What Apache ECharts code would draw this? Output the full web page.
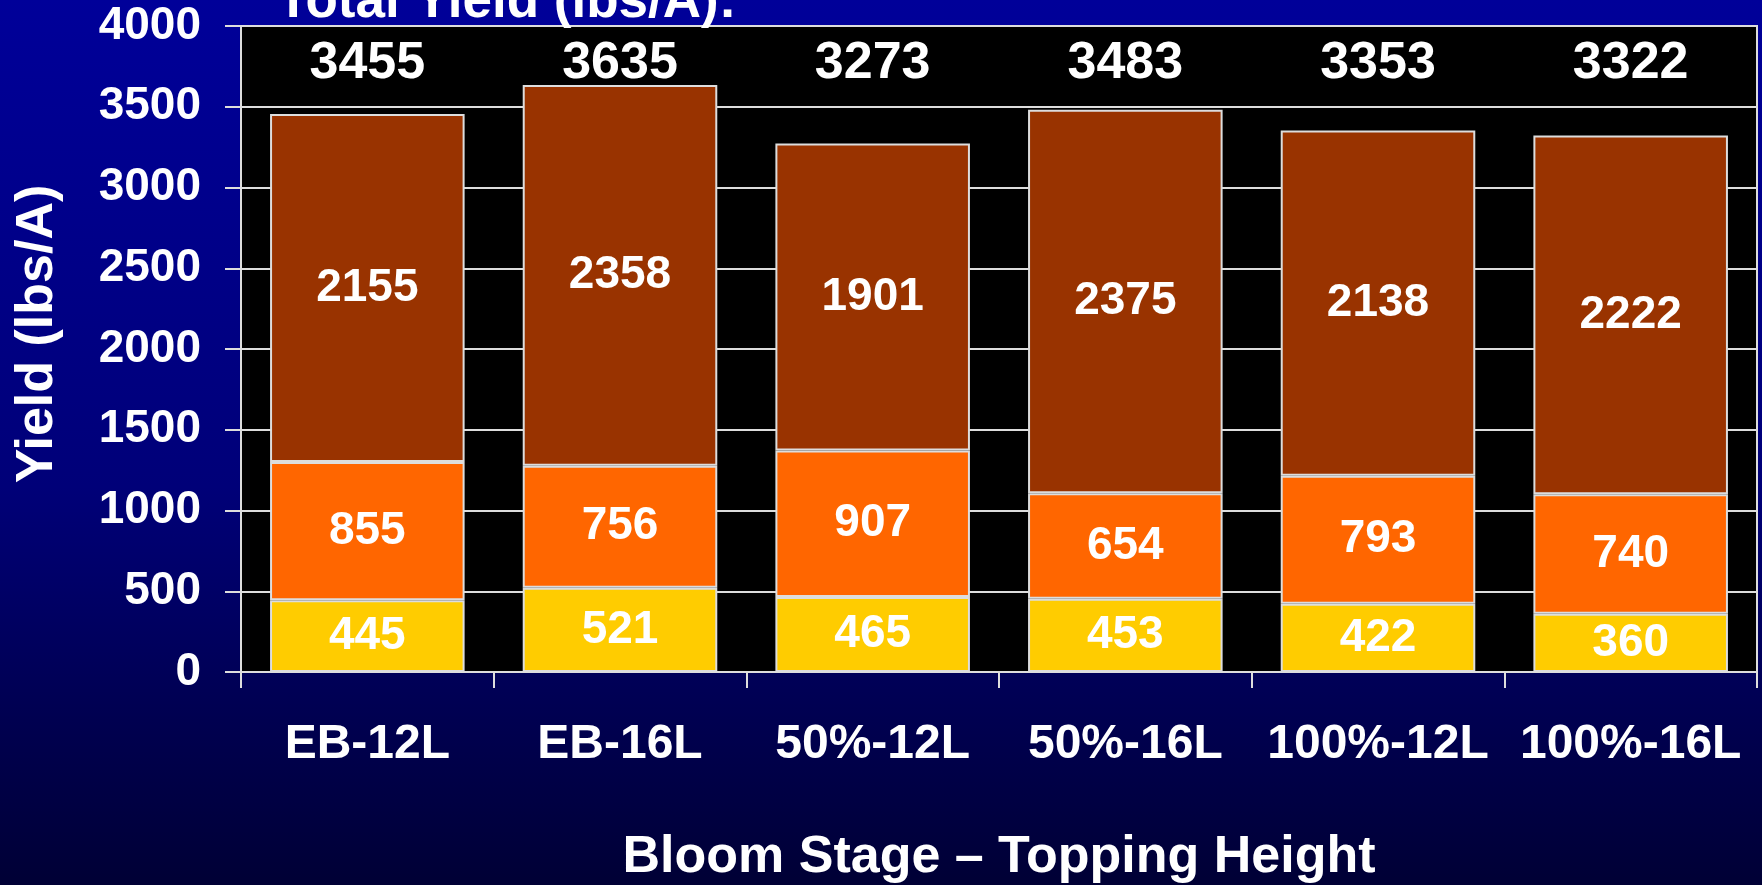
<!DOCTYPE html>
<html>
<head>
<meta charset="utf-8">
<title>Total Yield</title>
<script src="https://cdn.jsdelivr.net/npm/echarts@6/dist/echarts.min.js"></script>
<style>
  html, body { margin: 0; padding: 0; }
  #chart { width: 1762px; height: 885px; }
</style>
</head>
<body>
<div id="chart"></div>
<script>
  // bloom stage - topping height
  const categories = ['EB-12L', 'EB-16L', '50%-12L', '50%-16L', '100%-12L', '100%-16L']
  // stacked yield pieces, bottom to top (lbs/A)
  const bottomYield = [445, 521, 465, 453, 422, 360]
  const middleYield = [855, 756, 907, 654, 793, 740]
  const topYield = [2155, 2358, 1901, 2375, 2138, 2222]
  // totals as printed on the slide
  const totals = ['3455', '3635', '3273', '3483', '3353', '3322']
  const yTicks = [0, 500, 1000, 1500, 2000, 2500, 3000, 3500, 4000]

  const font = 'Liberation Sans, Arial, sans-serif'
  const lineColor = '#dddddd'

  const chart = echarts.init(document.getElementById('chart'), null, {width: 1762, height: 885})

  function stackSeries (name, data, color) {
    return {
      name: name,
      type: 'bar',
      stack: 'yield',
      xAxisIndex: 0,
      barCategoryGap: '23%',
      data: data,
      itemStyle: {color: color, borderColor: lineColor, borderWidth: 2},
      label: {
        show: true,
        position: 'inside',
        color: '#fff',
        fontFamily: font,
        fontWeight: 'bold',
        fontSize: 46
      }
    }
  }

  chart.setOption({
    backgroundColor: new echarts.graphic.LinearGradient(0, 0, 0, 1, [
      {offset: 0, color: '#000099'},
      {offset: 0.55, color: '#000078'},
      {offset: 0.8, color: '#000052'},
      {offset: 1, color: '#000035'}
    ]),
    animation: false,
    title: {
      text: 'Total Yield (lbs/A):',
      left: 272,
      top: -29,
      textStyle: {color: '#fff', fontFamily: font, fontWeight: 'bold', fontSize: 53}
    },
    grid: {
      left: 241,
      right: 5,
      top: 26,
      bottom: 213,
      outerBoundsMode: 'none',
      containLabel: false,
      show: true,
      backgroundColor: '#000',
      borderColor: lineColor,
      borderWidth: 2
    },
    xAxis: [{
      type: 'category',
      data: categories,
      position: 'bottom',
      name: 'Bloom Stage \u2013 Topping Height',
      nameLocation: 'middle',
      nameGap: 160,
      nameTextStyle: {color: '#fff', fontFamily: font, fontWeight: 'bold', fontSize: 52},
      axisLine: {lineStyle: {color: lineColor, width: 2}},
      axisTick: {show: true, length: 16, lineStyle: {color: lineColor, width: 2}},
      axisLabel: {color: '#fff', fontFamily: font, fontWeight: 'bold', fontSize: 48, margin: 49, interval: 0}
    }, {
      type: 'category',
      data: totals,
      position: 'top',
      axisLine: {show: false},
      axisTick: {show: false},
      splitLine: {show: false},
      axisLabel: {inside: true, margin: 12, color: '#fff', fontFamily: font, fontWeight: 'bold', fontSize: 52, interval: 0}
    }],
    yAxis: {
      type: 'value',
      min: yTicks[0],
      max: yTicks[yTicks.length - 1],
      interval: yTicks[1] - yTicks[0],
      name: 'Yield (lbs/A)',
      nameLocation: 'middle',
      nameGap: 177,
      nameRotate: 90,
      nameTextStyle: {color: '#fff', fontFamily: font, fontWeight: 'bold', fontSize: 52, padding: [0, 0, 0, 30]},
      axisLine: {show: true, lineStyle: {color: lineColor, width: 2}},
      axisTick: {show: true, length: 16, lineStyle: {color: lineColor, width: 2}},
      splitLine: {show: true, lineStyle: {color: lineColor, width: 2}},
      axisLabel: {
        color: '#fff',
        fontFamily: font,
        fontWeight: 'bold',
        fontSize: 46,
        margin: 40,
        formatter: function (v) { return String(v) }
      }
    },
    series: [
      stackSeries('Bottom', bottomYield, '#ffcc00'),
      stackSeries('Middle', middleYield, '#ff6600'),
      stackSeries('Top', topYield, '#993300')
    ]
  })
</script>
</body>
</html>
